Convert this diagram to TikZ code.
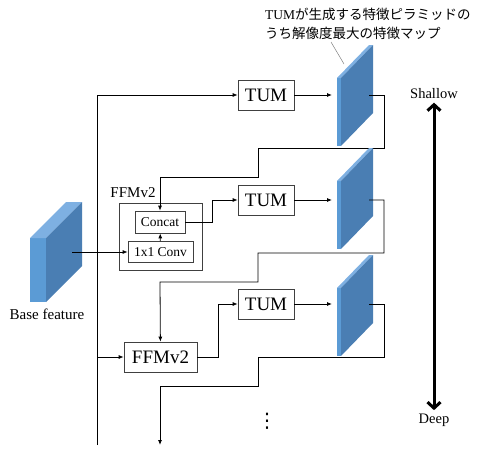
\documentclass[tikz,border=0pt]{standalone}
\usepackage{fontspec}
\setmainfont{Liberation Serif}[Ligatures=TeX]
\newfontfamily\lserif{Liberation Serif}
\newfontfamily\jpfont{Noto Sans CJK JP}
\newfontfamily\symfont{DejaVu Sans}
\usepackage{tikz}
\usetikzlibrary{arrows.meta,calc,positioning}
\tikzset{>=latex}
\definecolor{mapfront}{HTML}{5B9BD5}
\definecolor{mapside}{HTML}{4A7EB3}
\definecolor{maptop}{HTML}{7EB0E2}
\tikzset{
  blk/.style={draw=black!75, line width=0.7pt, inner sep=0pt, font=\lserif\fontsize{19}{19}\selectfont},
  subblk/.style={blk, font=\lserif\fontsize{13.5}{13.5}\selectfont},
  lbl/.style={font=\lserif\fontsize{15}{15}\selectfont},
  wire/.style={line width=0.8pt},
  arr/.style={wire, -{Latex[length=5pt,width=4pt]}},
}

\begin{document}
\begin{tikzpicture}[x=1pt, y=-1pt]
  \useasboundingbox (0,0) rectangle (480,453);

  % base feature
  \fill[mapfront] (30,238) rectangle (46,302);
  \fill[maptop] (30,238) -- (46,238) -- (82,202) -- (66,202) -- cycle;
  \fill[mapside] (46,238) -- (82,202) -- (82,266) -- (46,302) -- cycle;
  \node[lbl] (base) at (47,314) {Base feature};
  \coordinate (bout) at (72,252);

  % blocks
  \node[blk, minimum width=56pt, minimum height=30pt] (tum1) at (266,95) {TUM};
  \node[blk, minimum width=56pt, minimum height=30pt] (tum2) at (266,200) {TUM};
  \node[blk, minimum width=56pt, minimum height=30pt] (tum3) at (266,304) {TUM};
  \node[blk, minimum width=83pt, minimum height=67pt] (ffmbox) at (160.5,236.5) {};
  \node[lbl] (ffmlbl) at (133,193) {FFMv2};
  \node[subblk, minimum width=50pt, minimum height=22pt] (concat) at (160,222) {Concat};
  \node[subblk, minimum width=65pt, minimum height=21pt] (conv) at (160.5,252) {1x1 Conv};
  \node[blk, minimum width=73pt, minimum height=30pt] (ffm) at (160.5,357) {FFMv2};
  \coordinate (vbot) at (97,445);
  \coordinate (dend) at (160,445);

  % feature maps and feedback wires
  \foreach \n/\y/\t/\to in {1/78/95/concat, 2/181/200/ffm, 3/288/304/dend}
    {
      \fill[mapfront] (337,\y) rectangle (341,\y+68);
      \fill[maptop] (337,\y) -- (341,\y) -- (373,\y-33) -- (369,\y-33) -- cycle;
      \fill[mapside] (341,\y) -- (373,\y-33) -- (373,\y+35) -- (341,\y+68) -- cycle;
      \coordinate (in\n) at (332,\t);
      \coordinate (out\n) at (369,\t);
      \draw[arr] (tum\n) -- (in\n);
      \draw[arr] (out\n) -- (384,\t) -- (384,\t+53) -- (258,\t+53) -- (258,\t+82) -- (160,\t+82) -- (\to);
    }

  % inputs
  \draw[arr] (vbot) |- (tum1);
  \draw[arr] (vbot |- ffm) -- (ffm);
  \draw[arr] (bout) -- (conv);
  \draw[arr] (conv) -- (concat);
  \draw[arr] (concat.east) -- ++(27,0) |- (tum2);
  \draw[arr] (ffm.east) -- ++(21,0) |- (tum3);

  \node[font=\symfont\fontsize{20}{20}\selectfont] (dots) at (267,421) {⋮};

  % depth axis
  \node[font=\lserif\fontsize{14.5}{14.5}\selectfont] (shallow) at (434,94) {Shallow};
  \node[font=\lserif\fontsize{14.5}{14.5}\selectfont] (deep) at (434,420) {Deep};
  \draw[line width=3pt, {Straight Barb[length=6pt,width=13pt]}-{Straight Barb[length=6pt,width=13pt]}] (shallow) -- (deep);

  % callout
  \node[font=\jpfont\fontsize{13.5}{19.5}\selectfont, align=left, anchor=west, inner sep=0pt] (note) at (265,24)
    {{\lserif TUM}が生成する特徴ピラミッドの\\うち解像度最大の特徴マップ};
  \coordinate (cl) at (331,42);
  \coordinate (ctip) at (344,64);
  \draw[black!50, line width=0.5pt] (cl) -- (ctip);
\end{tikzpicture}
\end{document}
